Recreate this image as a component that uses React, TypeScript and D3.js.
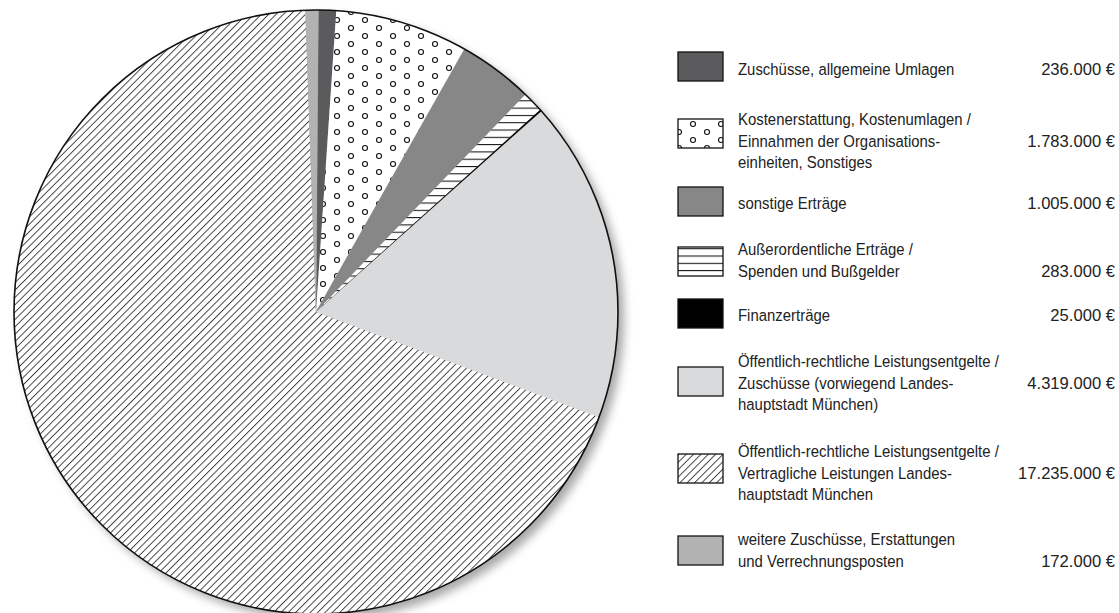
import React from "react";
import * as d3 from "d3";

const categories = [
  "Zuschüsse, allgemeine Umlagen",
  "Kostenerstattung, Kostenumlagen / Einnahmen der Organisations- einheiten, Sonstiges",
  "sonstige Erträge",
  "Außerordentliche Erträge / Spenden und Bußgelder",
  "Finanzerträge",
  "Öffentlich-rechtliche Leistungsentgelte / Zuschüsse (vorwiegend Landes- hauptstadt München)",
  "Öffentlich-rechtliche Leistungsentgelte / Vertragliche Leistungen Landes- hauptstadt München",
  "weitere Zuschüsse, Erstattungen und Verrechnungsposten",
];

const legendLines: string[][] = [
  ["Zuschüsse, allgemeine Umlagen"],
  ["Kostenerstattung, Kostenumlagen /", "Einnahmen der Organisations-", "einheiten, Sonstiges"],
  ["sonstige Erträge"],
  ["Außerordentliche Erträge /", "Spenden und Bußgelder"],
  ["Finanzerträge"],
  ["Öffentlich-rechtliche Leistungsentgelte /", "Zuschüsse (vorwiegend Landes-", "hauptstadt München)"],
  ["Öffentlich-rechtliche Leistungsentgelte /", "Vertragliche Leistungen Landes-", "hauptstadt München"],
  ["weitere Zuschüsse, Erstattungen", "und Verrechnungsposten"],
];

const values = [236000, 1783000, 1005000, 283000, 25000, 4319000, 17235000, 172000];

const valueLabels = [
  "236.000 €",
  "1.783.000 €",
  "1.005.000 €",
  "283.000 €",
  "25.000 €",
  "4.319.000 €",
  "17.235.000 €",
  "172.000 €",
];

const fills = [
  "#5b5b5d",
  "url(#dots)",
  "#878787",
  "url(#hlines)",
  "#000000",
  "#d9dadc",
  "url(#hatch)",
  "#b2b2b2",
];

// layout (box tops of legend entries, line index that carries the value)
const legendBoxTop = [52, 119, 187, 247, 299, 367, 454, 536];
const valueLine = [0, 1, 0, 1, 0, 1, 1, 1];
const firstBaseline = [75, 125, 209, 255, 321, 367, 457, 545];

const W = 1119;
const H = 613;
const cx = 316;
const cy = 312;
const R = 302;
const FONT_FAMILY = "'Liberation Sans', Arial, sans-serif";
const FONT_SIZE = 17;

function measure(): [number, number] {
  try {
    const c = document.createElement("canvas");
    const ctx = c.getContext("2d");
    if (!ctx) return [0.8, 0.88];
    ctx.font = `${FONT_SIZE}px ${FONT_FAMILY}`;
    const w1 = ctx.measureText("Öffentlich-rechtliche Leistungsentgelte /").width;
    const w2 = ctx.measureText("Zuschüsse, allgemeine Umlagen").width;
    const w3 = ctx.measureText("17.235.000 €").width;
    const k = (264 / w1 + 214 / w2) / 2;
    const kv = 97 / w3;
    return [
      isFinite(k) && k > 0.5 && k < 1.2 ? k : 0.8,
      isFinite(kv) && kv > 0.5 && kv < 1.3 ? kv : 0.88,
    ];
  } catch {
    return [0.8, 0.88];
  }
}

export default function App() {
  const [k, kv] = React.useMemo(measure, []);
  const pie = d3
    .pie<number>()
    .sort(null)
    .value((d) => d)
    .startAngle(0.008)
    .endAngle(0.008 + Math.PI * 2);
  const arcs = pie(values);
  const arc = d3.arc<d3.PieArcDatum<number>>().innerRadius(0).outerRadius(R);

  const boxX = 678;
  const boxW = 45;
  const boxH = 29;
  const textX = 738;
  const valX = 1115;
  const lh = 21.7;

  return (
    <svg
      width={W}
      height={H}
      style={{ position: "fixed", left: 0, top: 0, background: "#fff" }}
      fontFamily={FONT_FAMILY}
    >
      <defs>
        <pattern id="hatch" patternUnits="userSpaceOnUse" width={5.2} height={5.2} patternTransform="rotate(45)">
          <rect width={5.2} height={5.2} fill="#fff" />
          <line x1={0.5} y1={0} x2={0.5} y2={5.2} stroke="#2a2a2a" strokeWidth={0.85} />
        </pattern>
        <pattern id="hlines" patternUnits="userSpaceOnUse" width={20} height={7.3}>
          <rect width={20} height={7.3} fill="#fff" />
          <line x1={0} y1={0.5} x2={20} y2={0.5} stroke="#111" strokeWidth={1.1} />
        </pattern>
        <pattern id="dots" patternUnits="userSpaceOnUse" width={28} height={16}>
          <rect width={28} height={16} fill="#fff" />
          <circle cx={7} cy={4} r={2.5} fill="#fff" stroke="#111" strokeWidth={1.1} />
          <circle cx={21} cy={12} r={2.5} fill="#fff" stroke="#111" strokeWidth={1.1} />
        </pattern>
        <filter id="shadow" x="-20%" y="-20%" width="140%" height="140%">
          <feGaussianBlur stdDeviation={5} />
        </filter>
      </defs>

      <circle cx={cx + 6} cy={cy + 6} r={R} fill="#8a8a8a" opacity={0.75} filter="url(#shadow)" />

      <g transform={`translate(${cx},${cy})`}>
        {arcs.map((a, i) => (
          <path key={i} d={arc(a) || ""} fill={fills[i]} stroke={fills[i].startsWith("url") ? "none" : fills[i]} strokeWidth={0.3} />
        ))}
        <circle r={R} fill="none" stroke="#111" strokeWidth={1.6} />
      </g>

      <g>
        {categories.map((c, i) => {
          const lines = legendLines[i];
          const b0 = firstBaseline[i];
          return (
            <g key={c}>
              <rect
                x={boxX}
                y={legendBoxTop[i]}
                width={boxW}
                height={boxH}
                fill={fills[i]}
                stroke="#111"
                strokeWidth={1.3}
              />
              {lines.map((l, j) => (
                <text
                  key={j}
                  transform={`translate(${textX},${b0 + j * lh}) scale(${k},1)`}
                  fontSize={FONT_SIZE}
                  fill="#222"
                >
                  {l}
                </text>
              ))}
              <text
                transform={`translate(${valX},${b0 + valueLine[i] * lh}) scale(${kv},1)`}
                fontSize={FONT_SIZE}
                fill="#222"
                textAnchor="end"
              >
                {valueLabels[i]}
              </text>
            </g>
          );
        })}
      </g>
    </svg>
  );
}
